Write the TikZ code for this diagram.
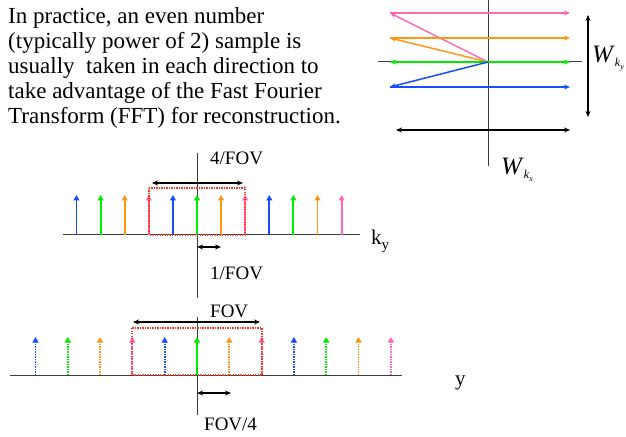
\documentclass[tikz,border=0pt]{standalone}
\usepackage{fontspec}
\setmainfont{Liberation Serif}
\usetikzlibrary{arrows.meta}
\definecolor{kblue}{RGB}{25,75,255}
\definecolor{kgreen}{RGB}{0,235,0}
\definecolor{korange}{RGB}{255,150,20}
\definecolor{kpink}{RGB}{255,105,180}
\definecolor{kred}{RGB}{255,50,30}
\definecolor{axisgray}{RGB}{60,60,60}
\tikzset{
  axisline/.style={draw=axisgray, line width=1bp},
  stem/.style={line width=1.9bp, -{Triangle[width=6bp,length=5.5bp]}},
  dstem/.style={stem, dash pattern=on 1.3bp off 1.2bp},
  traj/.style={line width=1.5bp, -{Stealth[width=5bp,length=6bp]}},
  dimarrow/.style={line width=1.5bp, {Stealth[width=5bp,length=6bp]}-{Stealth[width=5bp,length=6bp]}},
  fovbox/.style={draw=kred, line width=1.4bp, dash pattern=on 1.3bp off 1.2bp},
  bodytext/.style={anchor=base west, inner sep=0pt, font=\rmfamily\fontsize{23bp}{25bp}\selectfont},
  lbl/.style={anchor=base west, inner sep=0pt, font=\rmfamily\fontsize{19bp}{21bp}\selectfont},
}
\begin{document}
\begin{tikzpicture}[x=1bp,y=-1bp]
\useasboundingbox (0,0) rectangle (626,437);

% text block
\node[bodytext] (t1) at (8,24) {In practice, an even number};
\node[bodytext] (t2) at (8,49) {(typically power of 2) sample is};
\node[bodytext] (t3) at (8,74) {usually\ \ taken in each direction to};
\node[bodytext] (t4) at (8,99) {take advantage of the Fast Fourier};
\node[bodytext] (t5) at (8,124) {Transform (FFT) for reconstruction.};

% ---------- top right: k-space trajectory ----------
\coordinate (vt) at (488,0);
\coordinate (vb) at (488,166);
\coordinate (hl) at (378,62);
\coordinate (hr) at (582,62);
\draw[axisline] (vt) -- (vb);
\draw[axisline] (hl) -- (hr);
\coordinate (c) at (488,62);
\coordinate (pl) at (390,13);   \coordinate (pr) at (570,13);
\coordinate (ol) at (390,38);   \coordinate (or) at (570,38);
\coordinate (gl) at (390,62);   \coordinate (gr) at (570,62);
\coordinate (bl) at (390,87);   \coordinate (br) at (570,87);
\draw[traj, kpink] (pl) -- (pr);
\draw[traj, kpink] (c) -- (pl);
\draw[traj, korange] (ol) -- (or);
\draw[traj, korange] (c) -- (ol);
\draw[traj, kgreen] (c) -- (gl);
\draw[traj, kgreen] (c) -- (gr);
\draw[traj, kblue] (c) -- (bl);
\draw[traj, kblue] (bl) -- (br);
\coordinate (wxl) at (396,130); \coordinate (wxr) at (570,130);
\draw[dimarrow] (wxl) -- (wxr);
\coordinate (wyt) at (588,15); \coordinate (wyb) at (588,117);
\draw[dimarrow] (wyt) -- (wyb);
\node[anchor=base west, inner sep=0pt, font=\rmfamily\fontsize{25bp}{27bp}\selectfont] (wky) at (592,63)
  {\textit{W}\raisebox{-4bp}{\fontsize{12bp}{12bp}\selectfont\textit{k}\raisebox{-2.5bp}{\fontsize{8bp}{8bp}\selectfont\textit{y}}}};
\node[anchor=base west, inner sep=0pt, font=\rmfamily\fontsize{25bp}{27bp}\selectfont] (wkx) at (501,175)
  {\textit{W}\raisebox{-4bp}{\fontsize{12bp}{12bp}\selectfont\textit{k}\raisebox{-2.5bp}{\fontsize{8bp}{8bp}\selectfont\textit{x}}}};

% ---------- middle: k-space samples ----------
\coordinate (mh1) at (63,235); \coordinate (mh2) at (360,235);
\coordinate (mv1) at (197,153); \coordinate (mv2) at (197,298);
\draw[axisline] (mh1) -- (mh2);
\draw[axisline] (mv1) -- (mv2);
\foreach \i/\c in {0/kblue,1/kgreen,2/korange,3/kpink,4/kblue,5/kgreen,6/korange,7/kpink,8/kblue,9/kgreen,10/korange,11/kpink}{
  \coordinate (mb\i) at ({197+(\i-5)*24.1},235);
  \coordinate (mt\i) at ({197+(\i-5)*24.1},195);
  \draw[stem, \c] (mb\i) -- (mt\i);
}
\coordinate (mr1) at (149,188); \coordinate (mr2) at (245,235);
\draw[fovbox] (mr1) rectangle (mr2);
\coordinate (ma1) at (152,183); \coordinate (ma2) at (243,183);
\draw[dimarrow] (ma1) -- (ma2);
\coordinate (ms1) at (197,247); \coordinate (ms2) at (221,247);
\draw[dimarrow] (ms1) -- (ms2);
\node[lbl] (l4fov) at (210,165) {4/FOV};
\node[lbl] (l1fov) at (210,280) {1/FOV};
\node[anchor=base west, inner sep=0pt, font=\rmfamily\fontsize{21bp}{23bp}\selectfont] (lky) at (371,245)
  {k\raisebox{-5bp}{\fontsize{15bp}{15bp}\selectfont y}};

% ---------- bottom: image space replicas ----------
\coordinate (bh1) at (10,375); \coordinate (bh2) at (402,375);
\coordinate (bv1) at (197,317); \coordinate (bv2) at (197,415);
\draw[axisline] (bh1) -- (bh2);
\draw[axisline] (bv1) -- (bv2);
\foreach \i/\c in {0/kblue,1/kgreen,2/korange,3/kpink,4/kblue,6/korange,7/kpink,8/kblue,9/kgreen,10/korange,11/kpink}{
  \coordinate (bb\i) at ({197+(\i-5)*32.3},375);
  \coordinate (bt\i) at ({197+(\i-5)*32.3},337);
  \draw[dstem, \c] (bb\i) -- (bt\i);
}
\coordinate (bb5) at (197,375); \coordinate (bt5) at (197,337);
\draw[stem, kgreen] (bb5) -- (bt5);
\coordinate (br1) at (132,328); \coordinate (br2) at (262,375);
\draw[fovbox] (br1) rectangle (br2);
\coordinate (ba1) at (133,322); \coordinate (ba2) at (260,322);
\draw[dimarrow] (ba1) -- (ba2);
\coordinate (bs1) at (197,393); \coordinate (bs2) at (231,393);
\draw[dimarrow] (bs1) -- (bs2);
\node[lbl] (lfov) at (210,317) {FOV};
\node[lbl] (lfov4) at (204,430) {FOV/4};
\node[anchor=base west, inner sep=0pt, font=\rmfamily\fontsize{21bp}{23bp}\selectfont] (ly) at (455,385) {y};
\end{tikzpicture}
\end{document}
